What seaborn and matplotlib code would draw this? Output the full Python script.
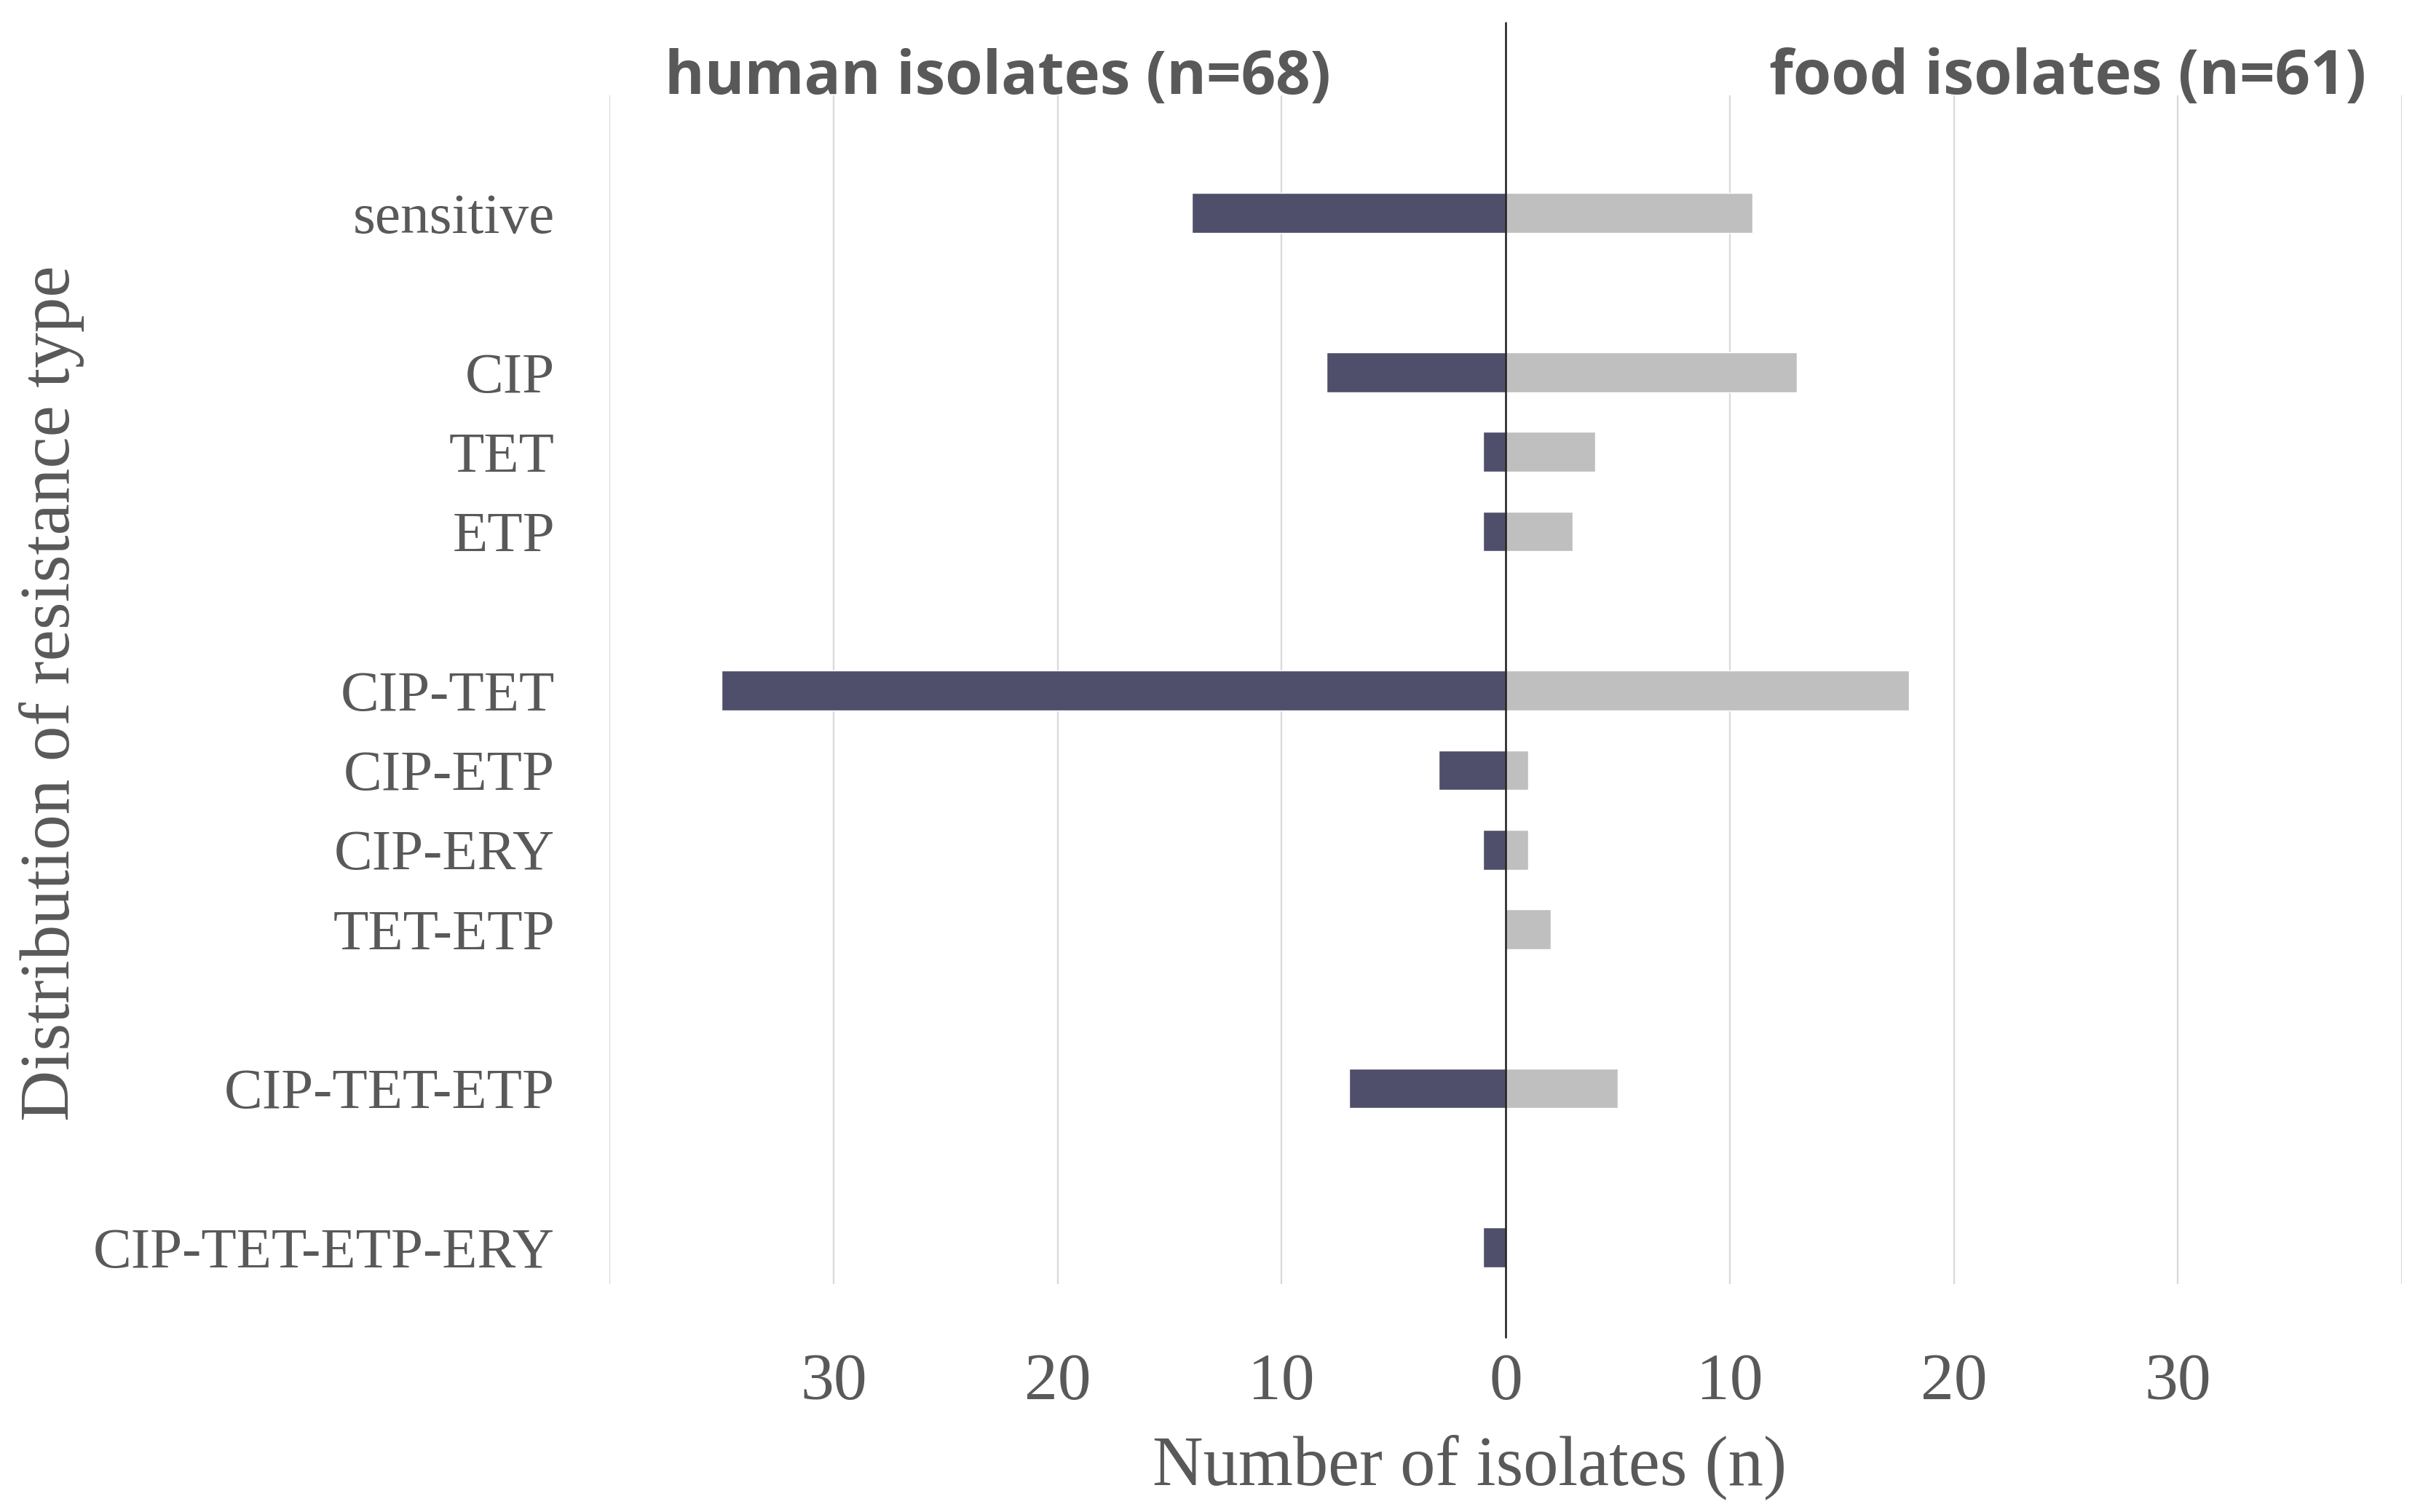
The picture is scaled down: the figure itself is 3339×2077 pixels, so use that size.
import matplotlib
matplotlib.use("Agg")
import matplotlib.pyplot as plt
import seaborn as sns
import pandas as pd
import numpy as np

# ---- data ----
categories = ["sensitive", "CIP", "TET", "ETP", "CIP-TET", "CIP-ETP", "CIP-ERY",
              "TET-ETP", "CIP-TET-ETP", "CIP-TET-ETP-ERY"]
human_values = [14, 8, 1, 1, 35, 3, 1, 0, 7, 1]
food_values = [11, 13, 4, 3, 18, 1, 1, 2, 5, 0]
# display order with empty spacer rows between groups
display_order = ["sensitive", " ", "CIP", "TET", "ETP", "  ", "CIP-TET", "CIP-ETP",
                 "CIP-ERY", "TET-ETP", "   ", "CIP-TET-ETP", "    ", "CIP-TET-ETP-ERY"]
x_ticks = [-40, -30, -20, -10, 0, 10, 20, 30, 40]
x_ticklabels = ["", "30", "20", "10", "0", "10", "20", "30", ""]
title_human = "human isolates (n=68)"
title_food = "food isolates (n=61)"

df = pd.concat([
    pd.DataFrame({"type": categories, "group": "human", "value": [-v for v in human_values]}),
    pd.DataFrame({"type": categories, "group": "food", "value": food_values}),
])

sns.set_style("white")
plt.rcParams["font.family"] = ["Liberation Serif", "DejaVu Serif"]

fig = plt.figure(figsize=(33.39, 20.77), dpi=100)
ax = fig.add_axes([837 / 3339, 1 - 1764 / 2077, 2462 / 3339, (1764 - 131) / 2077])

sns.barplot(data=df, y="type", x="value", hue="group", order=display_order,
            hue_order=["human", "food"], palette={"human": "#4f4f6b", "food": "#bfbfbf"},
            dodge=False, width=0.5, orient="h", legend=False, ax=ax, saturation=1)

ax.set_xlim(-40, 40)
ax.set_ylim(13.46, -1.48)
ax.set_xticks(x_ticks)
ax.set_xticklabels(x_ticklabels)
ax.tick_params(axis="x", length=0, pad=68, labelsize=66, labelcolor="#595959")
ax.tick_params(axis="y", length=0, pad=54, labelsize=57, labelcolor="#595959")
for s in ax.spines.values():
    s.set_visible(False)

for xv in x_ticks:
    if xv != 0:
        ax.axvline(xv, color="#d9d9d9", lw=1.6, zorder=0)
ax.axvline(0, ymin=-0.045, ymax=1.061, color="#1a1a1a", lw=1.8, clip_on=False, zorder=5)

ax.set_xlabel("Number of isolates (n)", fontsize=69.5, color="#595959")
ax.xaxis.set_label_coords(0.48, -0.154)
ax.xaxis.label.set_va("center")
ax.set_ylabel("Distribution of resistance type", fontsize=70, color="#595959")
ax.yaxis.set_label_coords(-0.311, 0.497)
ax.yaxis.label.set_va("center")

fig.text(1828 / 3339, 1 - 107 / 2077, title_human, ha="right", va="center",
         fontsize=60, fontweight="bold", color="#595959", family=["Open Sans", "DejaVu Sans"])
fig.text(3250 / 3339, 1 - 107 / 2077, title_food, ha="right", va="center",
         fontsize=61, fontweight="bold", color="#595959", family=["Open Sans", "DejaVu Sans"])

fig.savefig("out.png", dpi=100)
